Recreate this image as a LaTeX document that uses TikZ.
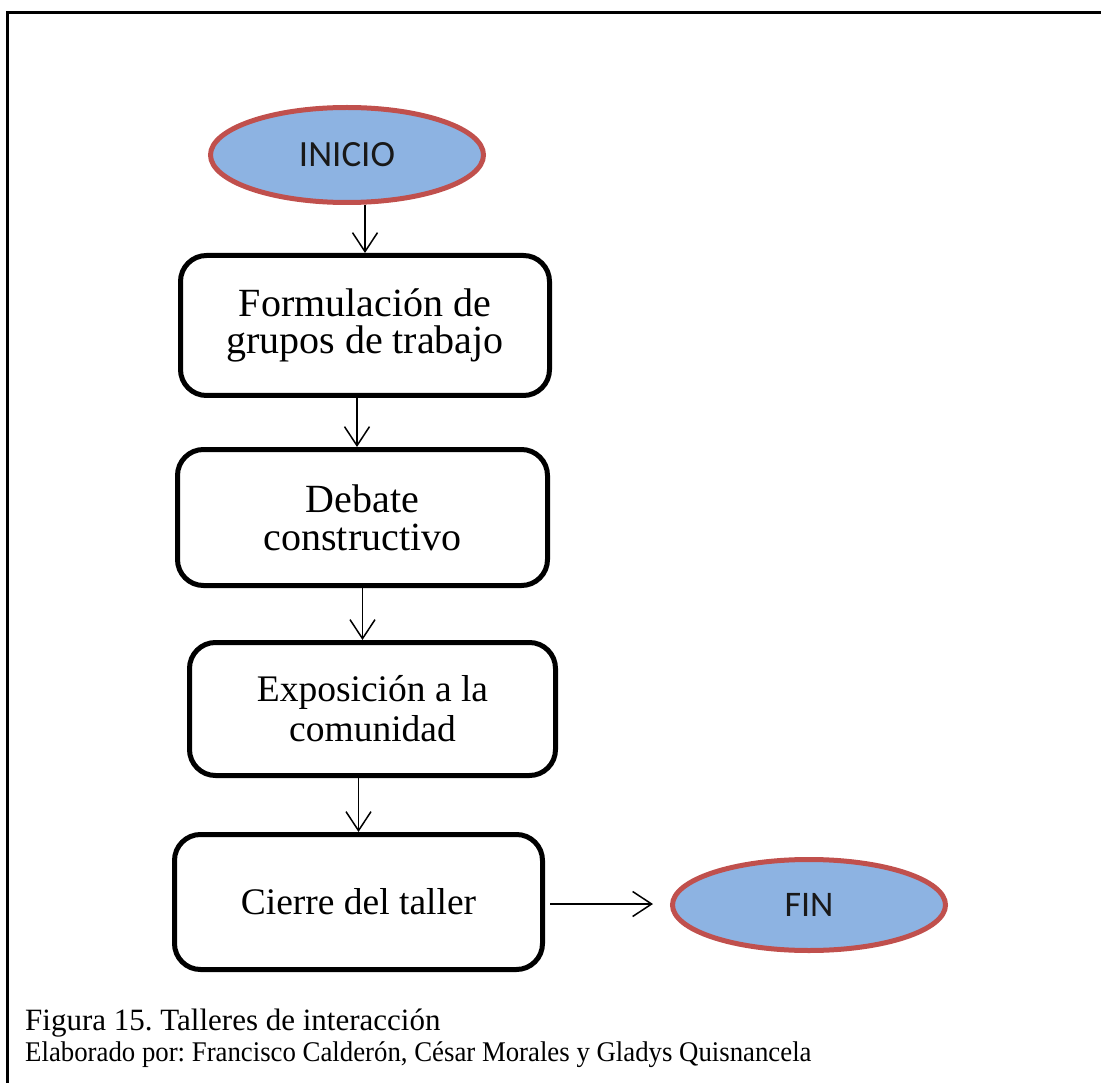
\documentclass[tikz,border=0pt]{standalone}
\usepackage{fontspec}
\setmainfont{Liberation Serif}
\newfontfamily\calibrifont{Carlito}
\usetikzlibrary{arrows.meta,shapes.geometric,calc}
\definecolor{termfill}{HTML}{8DB3E2}
\definecolor{termdraw}{HTML}{C0504D}
\frenchspacing
\tikzset{
  term/.style={ellipse, draw=termdraw, fill=termfill, line width=5pt, inner sep=0pt,
    font=\calibrifont\fontsize{37}{42}\selectfont, text=black!90},
  stepbox/.style={draw, line width=5pt, rounded corners=26pt, inner sep=0pt, align=center},
  flow/.style={line width=1.5pt, -{Straight Barb[length=19pt,width=25pt,line width=1.5pt]}},
  captext/.style={anchor=base west, inner sep=0pt},
}
\begin{document}
\begin{tikzpicture}[x=1pt,y=-1pt]
\useasboundingbox (0,0) rectangle (1101,1083);
\draw[line width=3pt] (7.5,1083) -- (7.5,12.5) -- (1101,12.5);

\node[term, minimum width=273pt, minimum height=95pt] (ini) at (347,155) {INICIO};

\node[stepbox, minimum width=369pt, minimum height=140pt,
  font=\fontsize{40}{37}\selectfont] (b1) at (365,325.5) {Formulación de\\grupos de trabajo};
\node[stepbox, minimum width=370pt, minimum height=136pt,
  font=\fontsize{40}{38}\selectfont] (b2) at (362.5,517.5) {Debate\\constructivo};
\node[stepbox, minimum width=366pt, minimum height=133pt,
  font=\fontsize{37.5}{40}\selectfont] (b3) at (372.5,709) {Exposición a la\\comunidad};
\node[stepbox, minimum width=368pt, minimum height=135pt,
  font=\fontsize{37.5}{40}\selectfont] (b4) at (358.5,902) {Cierre del taller};

\node[term, minimum width=273pt, minimum height=91pt, font=\calibrifont\fontsize{36}{40}\selectfont] (fin) at (809,905) {FIN};

\draw[flow] (ini.south -| b1.north) -- (b1.north);
\draw[flow] ([xshift=-8pt]b1.south) -- ([xshift=-8pt]b1.south |- b2.north);
\draw[flow] (b2.south) -- (b2.south |- b3.north);
\draw[flow] (b4.north |- b3.south) -- (b4.north);
\draw[flow, shorten <=5pt, shorten >=17pt] ([yshift=-2pt]b4.east) -- ([yshift=-2pt]b4.east -| fin.west);

\node[captext, font=\fontsize{31}{36}\selectfont] (cap1) at (25,1030) {Figura 15. Talleres de interacción};
\node[captext, font=\fontsize{28.5}{32}\selectfont] (cap2) at (25,1061) {\scalebox{0.94}[1]{Elaborado por: Francisco Calderón, César Morales y Gladys Quisnancela}};
\end{tikzpicture}
\end{document}
